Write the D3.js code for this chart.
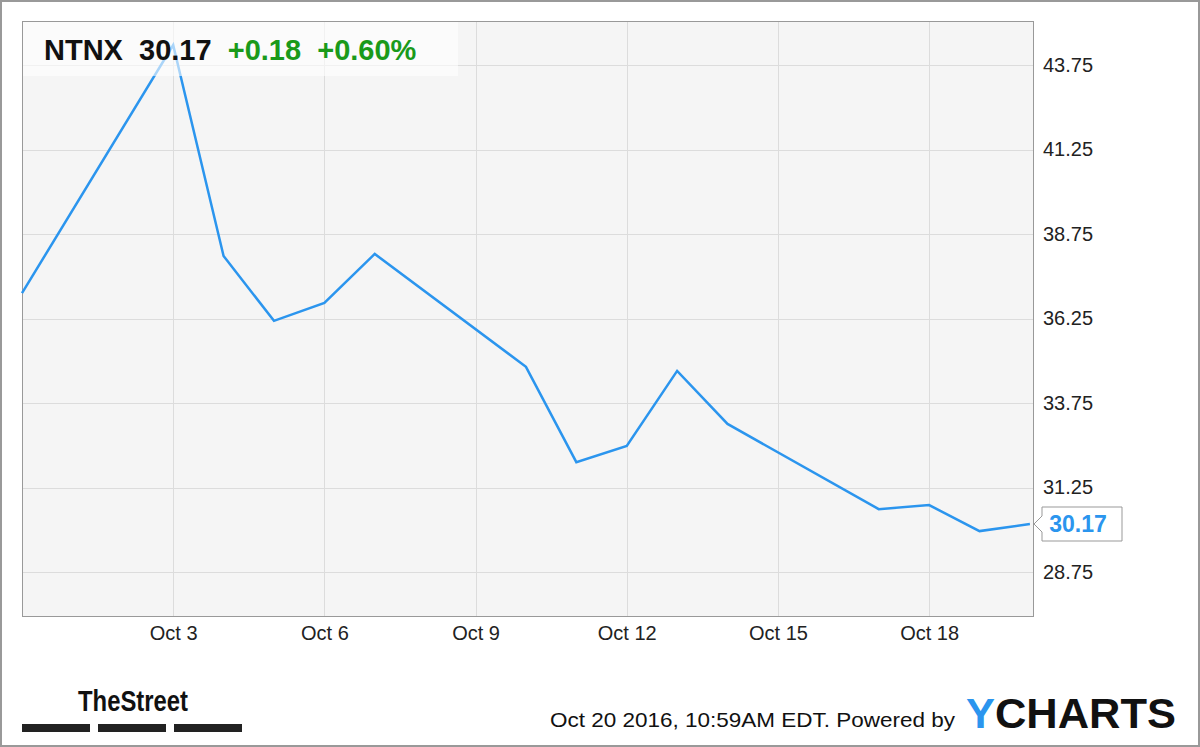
<!DOCTYPE html>
<html>
<head>
<meta charset="utf-8">
<script src="https://cdn.jsdelivr.net/npm/d3@7"></script>
<style>
  body { margin: 0; background: #fff; }
  text { font-family: "Liberation Sans", Arial, sans-serif; }
</style>
</head>
<body>
<script>
// daily closes, NTNX, Sep 30 - Oct 20 2016
const dates = ['2016-09-30', '2016-10-03', '2016-10-04', '2016-10-05', '2016-10-06', '2016-10-07',
               '2016-10-10', '2016-10-11', '2016-10-12', '2016-10-13', '2016-10-14',
               '2016-10-17', '2016-10-18', '2016-10-19', '2016-10-20'];
const prices = [37.0, 44.34, 38.10, 36.18, 36.71, 38.16, 34.82, 32.0, 32.48, 34.70, 33.13,
                30.61, 30.73, 29.96, 30.17];
const yTicks = [28.75, 31.25, 33.75, 36.25, 38.75, 41.25, 43.75];
const xTickDays = ['2016-10-03', '2016-10-06', '2016-10-09', '2016-10-12', '2016-10-15', '2016-10-18'];

const WIDTH = 1200;
const HEIGHT = 747;
const plot = {left: 22, right: 1033, top: 21, bottom: 616};

const parse = d3.timeParse('%Y-%m-%d');
const data = dates.map((d, i) => ({date: parse(d), price: prices[i]}));

const svg = d3.select('body').append('svg')
    .attr('width', WIDTH)
    .attr('height', HEIGHT);

// outer frame
svg.append('rect')
    .attr('x', 1).attr('y', 1)
    .attr('width', WIDTH - 2).attr('height', HEIGHT - 2)
    .attr('fill', '#fff').attr('stroke', '#999').attr('stroke-width', 2);

const xScale = d3.scaleTime()
    .domain([parse('2016-09-30'), new Date(2016, 9, 20, 1)])
    .range([plot.left, plot.right - 1]);

const yScale = d3.scaleLinear()
    .domain([43.75 + 44 / 84.5 * 2.5, 28.75 - 44 / 84.5 * 2.5])
    .range([plot.top, plot.bottom]);

// plot background
svg.append('rect')
    .attr('x', plot.left).attr('y', plot.top)
    .attr('width', plot.right - plot.left).attr('height', plot.bottom - plot.top)
    .attr('fill', '#f5f5f5');

// gridlines
svg.append('g').selectAll('line')
    .data(yTicks).enter().append('line')
    .attr('x1', plot.left).attr('x2', plot.right)
    .attr('y1', d => Math.round(yScale(d)) + 0.5).attr('y2', d => Math.round(yScale(d)) + 0.5)
    .attr('stroke', '#dcdcdc');

svg.append('g').selectAll('line')
    .data(xTickDays.map(parse)).enter().append('line')
    .attr('x1', d => Math.round(xScale(d)) + 0.5).attr('x2', d => Math.round(xScale(d)) + 0.5)
    .attr('y1', plot.top).attr('y2', plot.bottom)
    .attr('stroke', '#dcdcdc');

// plot border
svg.append('rect')
    .attr('x', plot.left + 0.5).attr('y', plot.top + 0.5)
    .attr('width', plot.right - plot.left).attr('height', plot.bottom - plot.top)
    .attr('fill', 'none').attr('stroke', '#999');

// axes (labels only)
const yAxis = d3.axisRight(yScale).tickValues(yTicks).tickSize(0).tickPadding(10).tickFormat(d3.format('.2f'));
svg.append('g')
    .attr('transform', 'translate(' + plot.right + ',0)')
    .call(yAxis)
    .call(g => g.select('.domain').remove())
    .selectAll('text')
    .attr('font-size', 20).attr('fill', '#222')
    .style('font-family', '"Liberation Sans", Arial, sans-serif');

const xAxis = d3.axisBottom(xScale).tickValues(xTickDays.map(parse)).tickSize(0).tickPadding(10)
    .tickFormat(d3.timeFormat('Oct %-d'));
svg.append('g')
    .attr('transform', 'translate(0,' + plot.bottom + ')')
    .call(xAxis)
    .call(g => g.select('.domain').remove())
    .selectAll('text')
    .attr('font-size', 20).attr('fill', '#222')
    .style('font-family', '"Liberation Sans", Arial, sans-serif');

// price line
const line = d3.line()
    .x(d => xScale(d.date))
    .y(d => yScale(d.price));

svg.append('path')
    .datum(data)
    .attr('d', line)
    .attr('fill', 'none')
    .attr('stroke', '#2b95ee')
    .attr('stroke-width', 2.5)
    .attr('stroke-linejoin', 'miter');

// title box
svg.append('rect')
    .attr('x', plot.left + 1).attr('y', plot.top + 1)
    .attr('width', 435).attr('height', 54)
    .attr('fill', '#fff').attr('opacity', 0.6);

const title = svg.append('text')
    .attr('x', 44).attr('y', 60)
    .attr('font-size', 29).attr('font-weight', 'bold')
    .style('white-space', 'pre');
title.append('tspan').attr('fill', '#111').text('NTNX  30.17  ');
title.append('tspan').attr('fill', '#1a9a1a').text('+0.18  +0.60%');

// last price flag
const last = data[data.length - 1];
const ly = yScale(last.price);
svg.append('path')
    .attr('d', `M${plot.right + 1},${ly} L${plot.right + 9},${ly - 8} L${plot.right + 9},${ly - 17} L1122,${ly - 17} L1122,${ly + 17} L${plot.right + 9},${ly + 17} L${plot.right + 9},${ly + 8} Z`)
    .attr('fill', '#fff').attr('stroke', '#999');
svg.append('text')
    .attr('x', 1078).attr('y', ly + 8)
    .attr('text-anchor', 'middle')
    .attr('font-size', 23).attr('font-weight', 'bold').attr('fill', '#2b95ee')
    .text('30.17');

// footer
svg.append('text')
    .attr('x', 550).attr('y', 727)
    .attr('font-size', 21).attr('fill', '#111')
    .attr('textLength', 405).attr('lengthAdjust', 'spacingAndGlyphs')
    .text('Oct 20 2016, 10:59AM EDT.  Powered by');

const yc = svg.append('text')
    .attr('x', 966).attr('y', 728)
    .attr('font-size', 42).attr('font-weight', 'bold')
    .attr('textLength', 210).attr('lengthAdjust', 'spacingAndGlyphs');
yc.append('tspan').attr('fill', '#2b95ee').text('Y');
yc.append('tspan').attr('fill', '#111').text('CHARTS');

svg.append('text')
    .attr('x', 78).attr('y', 711)
    .attr('font-size', 30).attr('font-weight', 'bold').attr('fill', '#111')
    .attr('textLength', 110).attr('lengthAdjust', 'spacingAndGlyphs')
    .text('TheStreet');

svg.append('g').selectAll('rect')
    .data([0, 1, 2]).enter().append('rect')
    .attr('x', d => 22 + d * 76).attr('y', 724)
    .attr('width', 68).attr('height', 8)
    .attr('fill', '#222');
</script>
</body>
</html>
